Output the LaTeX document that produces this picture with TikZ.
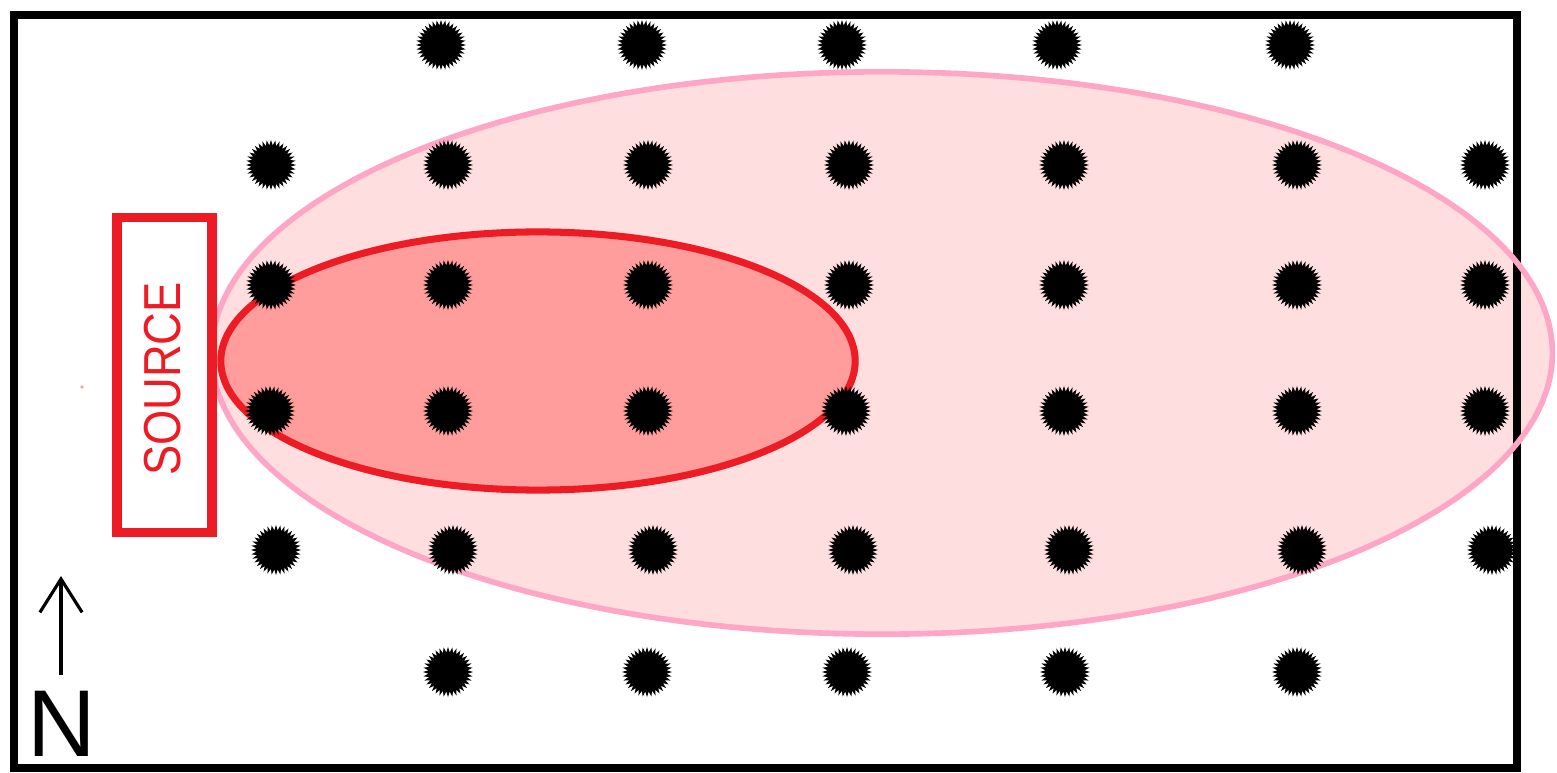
\documentclass[tikz,border=0pt]{standalone}
\usepackage{fontspec}
\newfontfamily\arial{Liberation Sans}
\usetikzlibrary{shapes.geometric,arrows.meta}
\definecolor{pinkfill}{HTML}{FFDEE0}
\definecolor{pinkline}{HTML}{FFA5C5}
\definecolor{redfill}{HTML}{FF9C9C}
\definecolor{redline}{HTML}{ED1C24}
\begin{document}
\begin{tikzpicture}[x=0.01cm,y=-0.01cm,
  dot/.style={star, star points=36, star point ratio=1.28, minimum size=0.50cm, inner sep=0pt, outer sep=0pt, fill=black, draw=none},
  framebox/.style={line width=2.3pt},
  plume/.style={line width=1.6pt, draw=pinkline},
  core/.style={line width=2pt, draw=redline, fill=redfill},
  srcbox/.style={draw=redline, line width=2.6pt, fill=white, minimum width=0.95cm, minimum height=3.14cm, inner sep=0pt},
  srctext/.style={text=redline, font=\arial\fontsize{14.8pt}{14.8pt}\selectfont, rotate=90, inner sep=0pt},
  ntext/.style={font=\arial\fontsize{27pt}{27pt}\selectfont, inner sep=0pt}]
\useasboundingbox (0,0) rectangle (1557,773);
% plume fill
\fill[pinkfill] (882,353) ellipse [x radius=6.70cm, y radius=2.81cm];
% frame
\draw[framebox] (14,15) rectangle (1517,768);
% plume outline
\draw[plume] (882,353) ellipse [x radius=6.70cm, y radius=2.81cm];
% core plume
\draw[core] (538,361) ellipse [x radius=3.17cm, y radius=1.29cm];
% source
\node[srcbox] (src) at (164.5,375) {};
\node[srctext] (srclabel) at (163,379) {\scalebox{0.87}[1]{SOURCE}};
\fill[redline!40] (82,387) circle (0.5pt);
% dots
\foreach \x [count=\i] in {441,642,842,1057,1290} \node[dot] (ra\i) at (\x,45) {};
\foreach \x [count=\i] in {271,448,648,849,1064,1297,1485} \node[dot] (rb\i) at (\x,165) {};
\foreach \x [count=\i] in {271,448,648,849,1064,1297,1485} \node[dot] (rc\i) at (\x,285) {};
\foreach \x [count=\i] in {270,448,648,846,1064,1297,1485} \node[dot] (rd\i) at (\x,411) {};
\foreach \x [count=\i] in {276,453,653,853,1069,1302,1492} \node[dot] (re\i) at (\x,550) {};
\foreach \x [count=\i] in {448,647,847,1065,1297} \node[dot] (rf\i) at (\x,672) {};
% north arrow
\node[ntext] (north) at (61.5,724) {N};
\coordinate (ntail) at (61,675);
\coordinate (nhead) at (61,576);
\draw[line width=0.9pt, -{Straight Barb[length=9.5pt,width=12pt,line width=0.9pt]}] (ntail) -- (nhead);
\end{tikzpicture}
\end{document}
